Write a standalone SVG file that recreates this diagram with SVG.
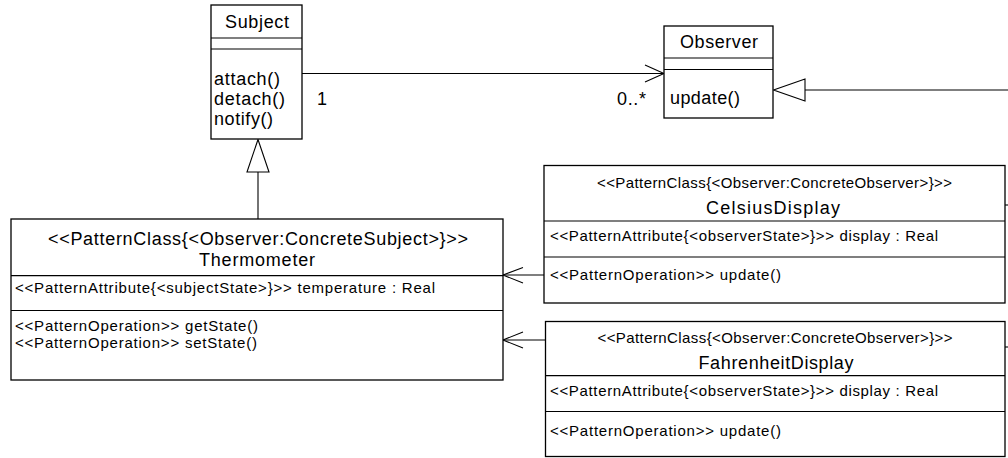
<svg xmlns="http://www.w3.org/2000/svg" width="1008" height="458" viewBox="0 0 1008 458">
<style>
.box{fill:#fff;stroke:#000;stroke-width:1.3}
.sep{stroke:#000;stroke-width:1.2}
.t{font-family:"Liberation Sans",Arial,Helvetica,sans-serif;fill:#000}
.big{font-size:18px}
.small{font-size:15px}
.mid{text-anchor:middle}
.conn{stroke:#000;stroke-width:1.1;fill:none}
.tri{fill:#fff;stroke:#000;stroke-width:1.1}
</style>
<rect width="1008" height="458" fill="#fff"/>
<g id="connectors">
<line class="conn" x1="302" y1="73.5" x2="664" y2="73.5"/>
<polyline class="conn" points="645,65 664,73.5 645,82"/>
<line class="conn" x1="258" y1="219" x2="258" y2="172"/>
<polygon class="tri" points="258,139.5 247,172 269,172"/>
<line class="conn" x1="805" y1="90" x2="1008" y2="90"/>
<polygon class="tri" points="773.5,90 805,79 805,101"/>
<line class="conn" x1="544" y1="275" x2="503" y2="275"/>
<polyline class="conn" points="523,267.5 503,275 523,283"/>
<line class="conn" x1="545.5" y1="340" x2="503" y2="340"/>
<polyline class="conn" points="523,332 503,340 523,348"/>
<line class="conn" x1="1005" y1="205" x2="1008" y2="205"/>
<line class="conn" x1="1005" y1="347" x2="1008" y2="347"/>
</g>
<g id="subject">
<rect class="box" x="211" y="5" width="91" height="134"/>
<line class="sep" x1="211" y1="38" x2="302" y2="38"/>
<line class="sep" x1="211" y1="49" x2="302" y2="49"/>
<text class="t big mid" x="257" y="28" textLength="64">Subject</text>
<text class="t big" x="214" y="85" textLength="66">attach()</text>
<text class="t big" x="214" y="105" textLength="71">detach()</text>
<text class="t big" x="214" y="125" textLength="59">notify()</text>
</g>
<g id="observer">
<rect class="box" x="664" y="26" width="109" height="92"/>
<line class="sep" x1="664" y1="58" x2="773" y2="58"/>
<line class="sep" x1="664" y1="69.5" x2="773" y2="69.5"/>
<text class="t big mid" x="719" y="48" textLength="78">Observer</text>
<text class="t big" x="670" y="104" textLength="70">update()</text>
</g>
<g id="labels">
<text class="t big" x="317" y="105">1</text>
<text class="t big" x="617" y="105" textLength="29">0..*</text>
</g>
<g id="thermometer">
<rect class="box" x="11" y="219" width="492" height="161"/>
<line class="sep" x1="11" y1="275.7" x2="503" y2="275.7"/>
<line class="sep" x1="11" y1="310.5" x2="503" y2="310.5"/>
<text class="t big mid" x="258" y="245" textLength="420">&lt;&lt;PatternClass{&lt;Observer:ConcreteSubject&gt;}&gt;&gt;</text>
<text class="t big mid" x="257" y="265.5" textLength="116">Thermometer</text>
<text class="t small" x="15" y="293" textLength="420">&lt;&lt;PatternAttribute{&lt;subjectState&gt;}&gt;&gt; temperature : Real</text>
<text class="t small" x="15" y="331" textLength="243">&lt;&lt;PatternOperation&gt;&gt; getState()</text>
<text class="t small" x="15" y="348" textLength="242">&lt;&lt;PatternOperation&gt;&gt; setState()</text>
</g>
<g id="celsiusDisplay">
<rect class="box" x="544" y="165.5" width="461" height="137.5"/>
<line class="sep" x1="544" y1="221" x2="1005" y2="221"/>
<line class="sep" x1="544" y1="257" x2="1005" y2="257"/>
<text class="t small mid" x="774.5" y="188" textLength="355">&lt;&lt;PatternClass{&lt;Observer:ConcreteObserver&gt;}&gt;&gt;</text>
<text class="t big mid" x="773" y="214" textLength="134">CelsiusDisplay</text>
<text class="t small" x="550" y="241" textLength="388">&lt;&lt;PatternAttribute{&lt;observerState&gt;}&gt;&gt; display : Real</text>
<text class="t small" x="550" y="280" textLength="231">&lt;&lt;PatternOperation&gt;&gt; update()</text>
</g>
<g id="fahrenheitDisplay">
<rect class="box" x="545.5" y="321.5" width="459.5" height="135"/>
<line class="sep" x1="545.5" y1="375.7" x2="1005" y2="375.7"/>
<line class="sep" x1="545.5" y1="411.5" x2="1005" y2="411.5"/>
<text class="t small mid" x="775" y="343" textLength="355">&lt;&lt;PatternClass{&lt;Observer:ConcreteObserver&gt;}&gt;&gt;</text>
<text class="t big mid" x="776" y="368.5" textLength="155">FahrenheitDisplay</text>
<text class="t small" x="550" y="396" textLength="388">&lt;&lt;PatternAttribute{&lt;observerState&gt;}&gt;&gt; display : Real</text>
<text class="t small" x="550" y="436" textLength="231">&lt;&lt;PatternOperation&gt;&gt; update()</text>
</g>
</svg>
